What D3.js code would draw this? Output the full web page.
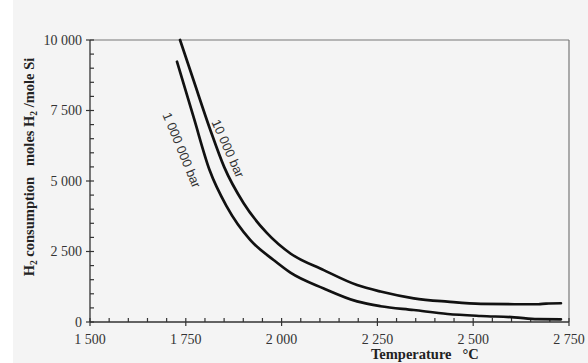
<!DOCTYPE html>
<html>
<head>
<meta charset="utf-8">
<script src="https://cdn.jsdelivr.net/npm/d3@7"></script>
<style>
  body { margin: 0; background: #ffffff; }
  svg { display: block; }
  .tick-label { font-family: "Liberation Serif", "Times New Roman", serif; font-size: 14px; fill: #333; }
  .axis-title { font-family: "Liberation Serif", "Times New Roman", serif; font-size: 14.5px; font-weight: bold; fill: #222; }
  .curve-label { font-family: "Liberation Sans", Arial, sans-serif; font-size: 13px; fill: #333; }
</style>
</head>
<body>
<svg id="chart" width="588" height="363"></svg>
<script>
// x: temperature (°C), y: H2 consumption (moles H2 / mole Si)
var xTicks = [1500, 1750, 2000, 2250, 2500, 2750];
var yTicks = [0, 2500, 5000, 7500, 10000];
var tickFormat = d => d3.format(",")(d).replace(",", " ");

var temp10k = [1735, 1770, 1814, 1850, 1901, 1962, 2023, 2110, 2197, 2258, 2345, 2433, 2520, 2607, 2670, 2690, 2729];
var h2_10k  = [10000, 8580, 6810, 5500, 4210, 3150, 2430, 1840, 1310, 1080, 840, 720, 640, 630, 630, 655, 665];

var temp1M = [1727, 1770, 1812, 1857, 1918, 1979, 2023, 2110, 2197, 2258, 2345, 2433, 2520, 2607, 2668, 2729];
var h2_1M  = [9230, 7280, 5390, 4090, 2910, 2200, 1750, 1190, 730, 560, 425, 284, 213, 167, 100, 96];

var margin = {
    top: 40,
    left: 90,
    right: 19,
    bottom: 41
};
const width = 588, height = 363;

var svg = d3.select('#chart');

// paper background
svg.append('rect').attr('x', 13).attr('y', 0).attr('width', width - 13).attr('height', height).attr('fill', '#f4f4f4');

var x = d3.scaleLinear().domain([1500, 2750]).range([margin.left, width - margin.right]);
var y = d3.scaleLinear().domain([0, 10000]).range([height - margin.bottom, margin.top]);

// frame: top and right lighter
svg.append('line')
    .attr('x1', x(1500)).attr('x2', x(2750))
    .attr('y1', y(10000)).attr('y2', y(10000))
    .attr('stroke', '#777').attr('stroke-width', 1.2);
svg.append('line')
    .attr('x1', x(2750)).attr('x2', x(2750))
    .attr('y1', y(10000)).attr('y2', y(0))
    .attr('stroke', '#777').attr('stroke-width', 1.2);

// left axis
var gy = svg.append('g');
gy.append('line')
    .attr('x1', x(1500)).attr('x2', x(1500))
    .attr('y1', y(0)).attr('y2', y(10000))
    .attr('stroke', '#333').attr('stroke-width', 1.3);
gy.selectAll('line.minor')
    .data(d3.range(0, 10001, 500))
    .enter()
    .append('line')
    .attr('class', 'minor')
    .attr('x1', d => x(1500) - (d % 2500 === 0 ? 4 : 0))
    .attr('x2', d => x(1500) + 4)
    .attr('y1', d => y(d)).attr('y2', d => y(d))
    .attr('stroke', '#333').attr('stroke-width', 1.2);
gy.selectAll('text')
    .data(yTicks)
    .enter()
    .append('text')
    .attr('class', 'tick-label')
    .attr('x', x(1500) - 8)
    .attr('y', d => y(d))
    .attr('dy', '0.35em')
    .attr('text-anchor', 'end')
    .text(tickFormat);

// bottom axis
var gx = svg.append('g');
gx.append('line')
    .attr('x1', x(1500)).attr('x2', x(2750))
    .attr('y1', y(0)).attr('y2', y(0))
    .attr('stroke', '#333').attr('stroke-width', 1.3);
gx.selectAll('line.minor')
    .data(d3.range(1500, 2751, 50))
    .enter()
    .append('line')
    .attr('class', 'minor')
    .attr('x1', d => x(d)).attr('x2', d => x(d))
    .attr('y1', d => y(0) + (d % 250 === 0 ? 4 : 0))
    .attr('y2', y(0) - 4)
    .attr('stroke', '#333').attr('stroke-width', 1.2);
gx.selectAll('text')
    .data(xTicks)
    .enter()
    .append('text')
    .attr('class', 'tick-label')
    .attr('x', d => x(d))
    .attr('y', y(0) + 22)
    .attr('text-anchor', 'middle')
    .text(tickFormat);

// axis titles
var yt = svg.append('text')
    .attr('class', 'axis-title')
    .attr('transform', 'translate(34,167) rotate(-90)')
    .attr('text-anchor', 'middle');
yt.append('tspan').text('H');
yt.append('tspan').attr('font-size', '9.5px').attr('dy', 3).text('2');
yt.append('tspan').attr('dy', -3).text(' consumption\u00a0\u00a0 moles H');
yt.append('tspan').attr('font-size', '9.5px').attr('dy', 3).text('2');
yt.append('tspan').attr('dy', -3).text(' /mole Si');

var xt = svg.append('text')
    .attr('class', 'axis-title')
    .attr('x', 371)
    .attr('y', 359)
    .attr('text-anchor', 'start');
xt.append('tspan').text('Temperature');
xt.append('tspan').attr('dx', 11).text('\u00b0C');

// curves
var line = d3.line()
    .x(d => x(d[0]))
    .y(d => y(d[1]))
    .curve(d3.curveMonotoneX);

var series = [
    d3.zip(temp10k, h2_10k),
    d3.zip(temp1M, h2_1M)
];

svg.append('g')
    .selectAll('path')
    .data(series)
    .enter()
    .append('path')
    .attr('d', line)
    .attr('fill', 'none')
    .attr('stroke', '#111')
    .attr('stroke-width', 2.7)
    .attr('stroke-linecap', 'round');

// curve labels, placed along the steep parts of the curves
svg.append('text')
    .attr('class', 'curve-label')
    .attr('transform', 'translate(' + (x(1850) + 4) + ',' + y(6150) + ') rotate(66)')
    .attr('text-anchor', 'middle')
    .attr('dy', '0.35em')
    .text('10 000 bar');

svg.append('text')
    .attr('class', 'curve-label')
    .attr('transform', 'translate(' + (x(1750) - 4) + ',' + y(6100) + ') rotate(67.5)')
    .attr('text-anchor', 'middle')
    .attr('dy', '0.35em')
    .text('1 000 000 bar');
</script>
</body>
</html>
